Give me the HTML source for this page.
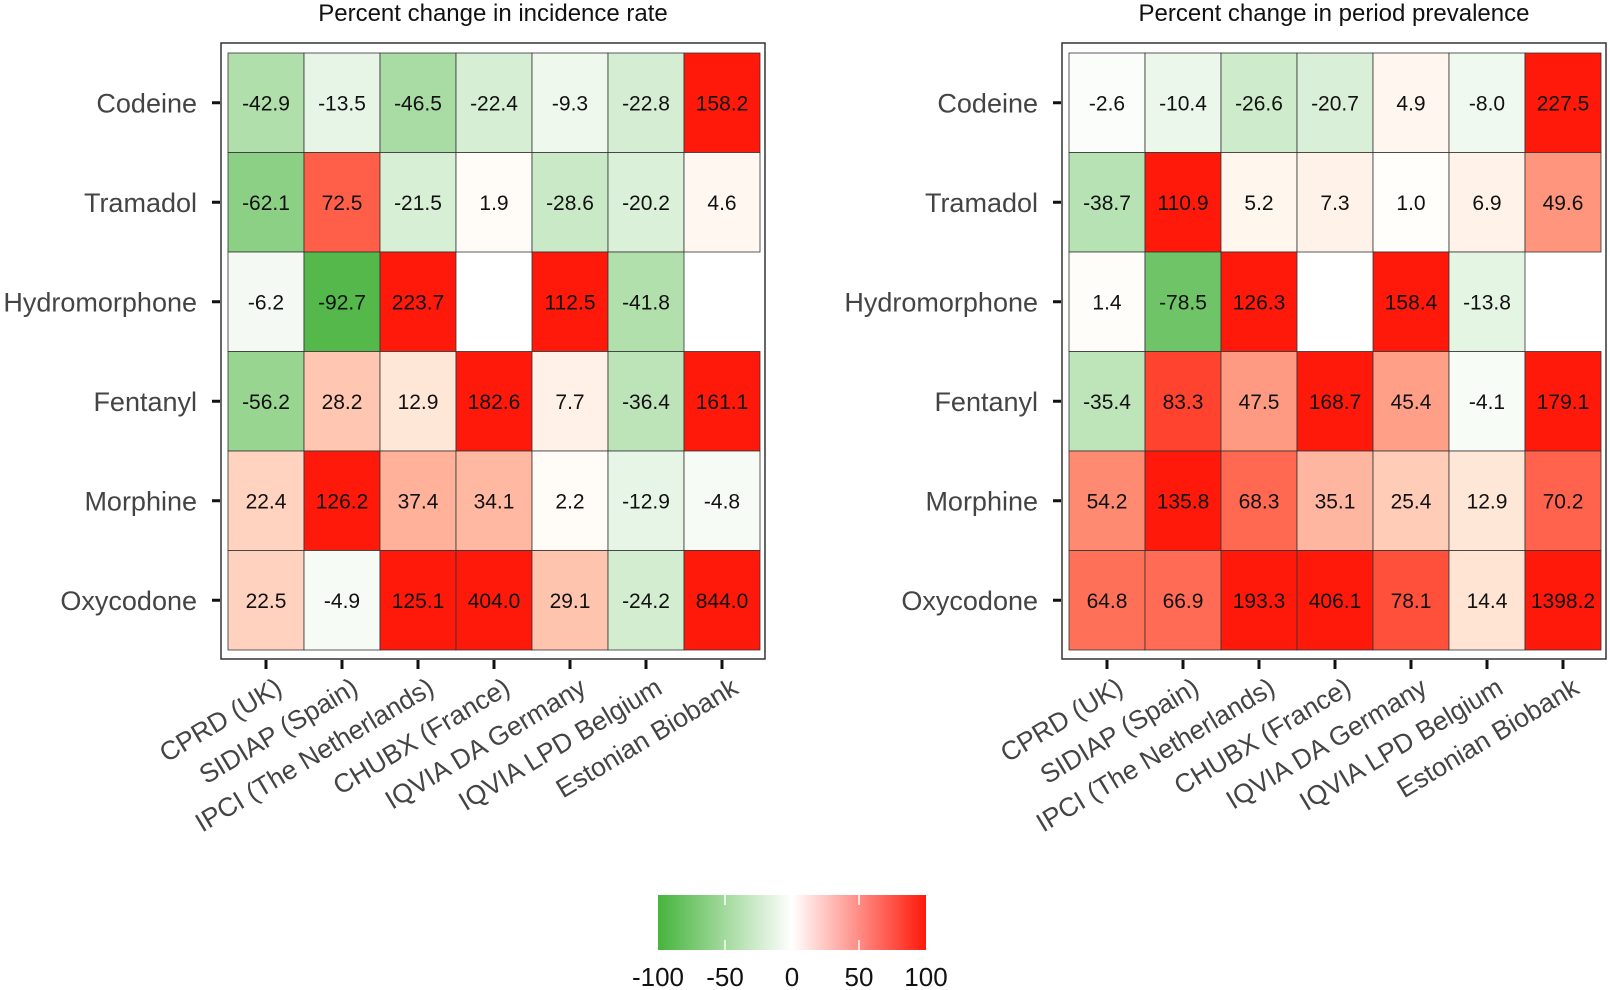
<!DOCTYPE html>
<html><head><meta charset="utf-8"><style>
html,body{margin:0;padding:0;background:#fff;}
svg{display:block;font-family:"Liberation Sans",sans-serif;}
</style></head>
<body>
<svg id="chart" width="1610" height="990" viewBox="0 0 1610 990">
<defs>
<linearGradient id="lg" x1="0" x2="1" y1="0" y2="0">
<stop offset="0" stop-color="rgb(70,180,60)"/>
<stop offset="0.5" stop-color="#ffffff"/>
<stop offset="1" stop-color="rgb(255,25,10)"/>
</linearGradient>
</defs>
</svg>
<script>
const drugs = ["Codeine","Tramadol","Hydromorphone","Fentanyl","Morphine","Oxycodone"];
const databases = ["CPRD (UK)","SIDIAP (Spain)","IPCI (The Netherlands)","CHUBX (France)","IQVIA DA Germany","IQVIA LPD Belgium","Estonian Biobank"];
const incidenceValues = [
 [-42.9,-13.5,-46.5,-22.4,-9.3,-22.8,158.2],
 [-62.1,72.5,-21.5,1.9,-28.6,-20.2,4.6],
 [-6.2,-92.7,223.7,null,112.5,-41.8,null],
 [-56.2,28.2,12.9,182.6,7.7,-36.4,161.1],
 [22.4,126.2,37.4,34.1,2.2,-12.9,-4.8],
 [22.5,-4.9,125.1,404.0,29.1,-24.2,844.0]
];
const prevalenceValues = [
 [-2.6,-10.4,-26.6,-20.7,4.9,-8.0,227.5],
 [-38.7,110.9,5.2,7.3,1.0,6.9,49.6],
 [1.4,-78.5,126.3,null,158.4,-13.8,null],
 [-35.4,83.3,47.5,168.7,45.4,-4.1,179.1],
 [54.2,135.8,68.3,35.1,25.4,12.9,70.2],
 [64.8,66.9,193.3,406.1,78.1,14.4,1398.2]
];
const panelTitles = ["Percent change in incidence rate","Percent change in period prevalence"];
const legendTicks = [-100,-50,0,50,100];

const NS="http://www.w3.org/2000/svg";
const svg=document.getElementById('chart');
function mk(tag,attrs,parent){const e=document.createElementNS(NS,tag);for(const k in attrs)e.setAttribute(k,attrs[k]);(parent||svg).appendChild(e);return e;}
function color(v){
  const t=Math.max(-100,Math.min(100,v))/100;
  const a=Math.abs(t);
  if(t<0){
    const g=[70,180,60];
    return `rgb(${[0,1,2].map(i=>Math.round(255+(g[i]-255)*a)).join(',')})`;
  }
  const G=Math.round(255-230*Math.pow(a,1.1));
  const B=Math.round(255-245*Math.pow(a,0.9));
  return `rgb(255,${G},${B})`;
}
const panels=[{x0:228,x1:760,box:[221,43,765,659],vals:incidenceValues,slug:'incidence'},
              {x0:1069,x1:1601,box:[1062,43,1606,659],vals:prevalenceValues,slug:'prevalence'}];
const y0=53,y1=650;
panels.forEach((p,pi)=>{
  const g=mk('g',{});
  
  
  const cw=(p.x1-p.x0)/databases.length, ch=(y1-y0)/drugs.length;
  const xs=j=>p.x0+j*cw, ys=i=>y0+i*ch;
  const t=mk('text',{x:(p.box[0]+p.box[2])/2,y:21,'text-anchor':'middle','font-size':24,fill:'#111'},g);
  t.textContent=panelTitles[pi];
  
  
  const bx=mk('rect',{x:p.box[0],y:p.box[1],width:p.box[2]-p.box[0],height:p.box[3]-p.box[1],fill:'none',stroke:'#333','stroke-width':1.5},g);
  
  
  drugs.forEach((d,i)=>{
    databases.forEach((db,j)=>{
      const v=p.vals[i][j];
      if(v===null)return;
      const c=mk('rect',{x:xs(j),y:ys(i),width:cw,height:ch,fill:color(v),stroke:'#333','stroke-width':0.8},g);
      
      
      const tx=mk('text',{x:xs(j)+cw/2,y:ys(i)+ch/2+7.5,'text-anchor':'middle','font-size':21,fill:'#111'},g);
      tx.textContent=v.toFixed(1);
      
      
    });
    const yl=mk('text',{x:p.box[0]-24,y:ys(i)+ch/2+9.5,'text-anchor':'end','font-size':27,fill:'#444'},g);
    yl.textContent=d;
    
    
    const tk=mk('line',{x1:p.box[0]-9,x2:p.box[0]-1,y1:ys(i)+ch/2,y2:ys(i)+ch/2,stroke:'#111','stroke-width':3},g);
    
    
  });
  databases.forEach((db,j)=>{
    const cx=xs(j)+cw/2;
    const tk=mk('line',{x1:cx,x2:cx,y1:p.box[3]+1,y2:p.box[3]+10,stroke:'#111','stroke-width':3},g);
    
    
    const xl=mk('text',{transform:`translate(${cx+8},${676}) rotate(-31)`,'text-anchor':'end',dy:'0.72em','font-size':26.5,fill:'#444'},g);
    xl.textContent=db;
    
    
  });
});
// legend
const lx0=658,lx1=926,ly0=895,ly1=950;
const lg=mk('g',{});


const bar=mk('rect',{x:lx0,y:ly0,width:lx1-lx0,height:ly1-ly0,fill:'url(#lg)'},lg);


legendTicks.forEach(v=>{
  const x=lx0+(v+100)/200*(lx1-lx0);
  if(v>-100&&v<100){
    const l1=mk('line',{x1:x,x2:x,y1:ly0,y2:ly0+10,stroke:'#fff','stroke-width':1.5},lg);
    
    
    const l2=mk('line',{x1:x,x2:x,y1:ly1-10,y2:ly1,stroke:'#fff','stroke-width':1.5},lg);
    
    
  }
  const t=mk('text',{x:x,y:986,'text-anchor':'middle','font-size':26,fill:'#111'},lg);
  t.textContent=v;
  
  
});
</script>
</body></html>
